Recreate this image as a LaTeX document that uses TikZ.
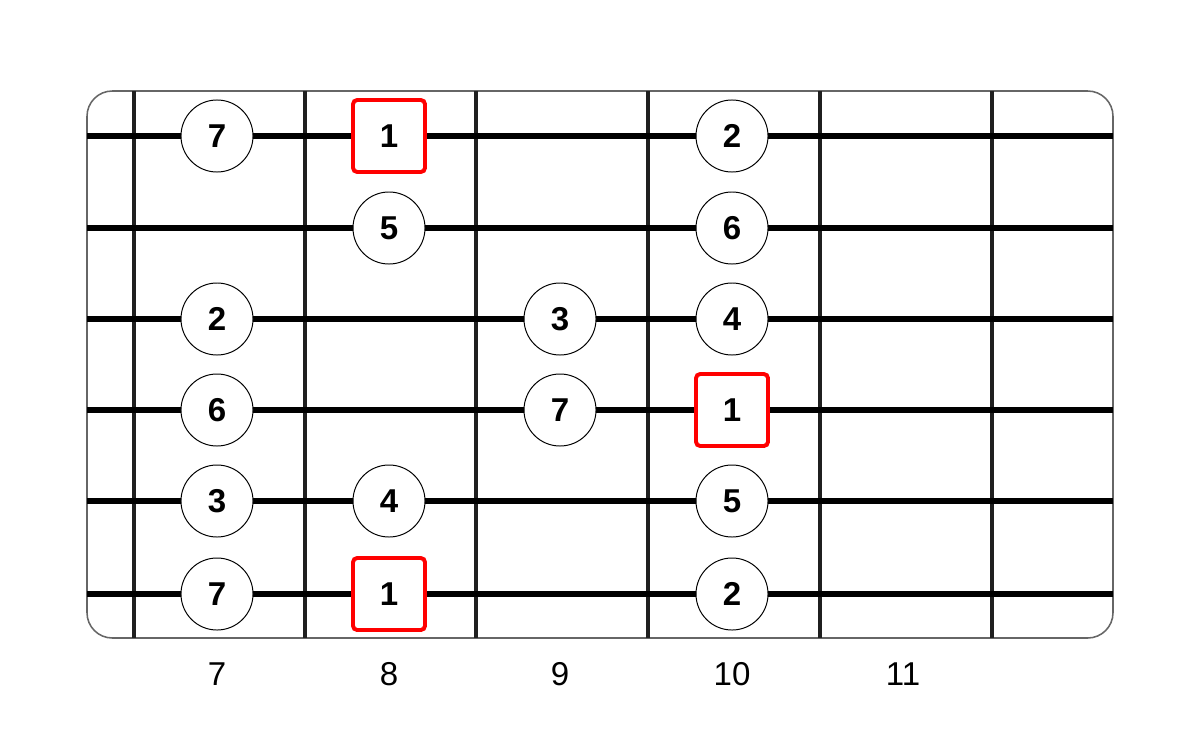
\documentclass[tikz,border=0pt]{standalone}
\usepackage{fontspec}
\setmainfont{Liberation Sans}
\usetikzlibrary{calc}
\tikzset{
  note/.style={circle, draw=black, line width=0.7pt, fill=white, minimum size=1.8cm, inner sep=0pt, font=\fontsize{23.5}{23.5}\selectfont\bfseries},
  root/.style={rectangle, rounded corners=3pt, draw=red, line width=2.8pt, fill=white, minimum size=1.8cm, inner sep=0pt, font=\fontsize{23.5}{23.5}\selectfont\bfseries},
  fretnum/.style={font=\fontsize{23.5}{23.5}\selectfont}
}
\begin{document}
\begin{tikzpicture}[x=0.025cm, y=-0.025cm]
		%%%%% START %%%%%
		\useasboundingbox (0, 0) rectangle (1200, 729);
		
		\draw[line width=1.1pt, color=black!60, rounded corners=18pt, fill=white] (87, 91) rectangle (1113, 638);
		
		% frets
		\foreach \fx in {134, 305, 476, 648, 820, 992}
			\draw[line width=2.2pt, color=black!88] (\fx, 91) -- (\fx, 638);
		
		% strings
		\foreach \sy in {136, 228, 319, 410, 501, 594}
			\draw[line width=4.3pt, color=black] (87, \sy) -- (1113, \sy);
		
		% string 1
		\node[note] (s1a) at (217, 136) {7};
		\node[root] (s1b) at (389, 136) {1};
		\node[note] (s1c) at (732, 136) {2};
		
		% string 2
		\node[note] (s2a) at (389, 228) {5};
		\node[note] (s2b) at (732, 228) {6};
		
		% string 3
		\node[note] (s3a) at (217, 319) {2};
		\node[note] (s3b) at (560, 319) {3};
		\node[note] (s3c) at (732, 319) {4};
		
		% string 4
		\node[note] (s4a) at (217, 410) {6};
		\node[note] (s4b) at (560, 410) {7};
		\node[root] (s4c) at (732, 410) {1};
		
		% string 5
		\node[note] (s5a) at (217, 501) {3};
		\node[note] (s5b) at (389, 501) {4};
		\node[note] (s5c) at (732, 501) {5};
		
		% string 6
		\node[note] (s6a) at (217, 594) {7};
		\node[root] (s6b) at (389, 594) {1};
		\node[note] (s6c) at (732, 594) {2};
		
		% fret numbers
		\node[fretnum] (f7) at (217, 674) {7};
		\node[fretnum] (f8) at (389, 674) {8};
		\node[fretnum] (f9) at (560, 674) {9};
		\node[fretnum] (f10) at (732, 674) {10};
		\node[fretnum] (f11) at (903, 674) {11};
		
		%%%%% END %%%%%
	\end{tikzpicture}
\end{document}
